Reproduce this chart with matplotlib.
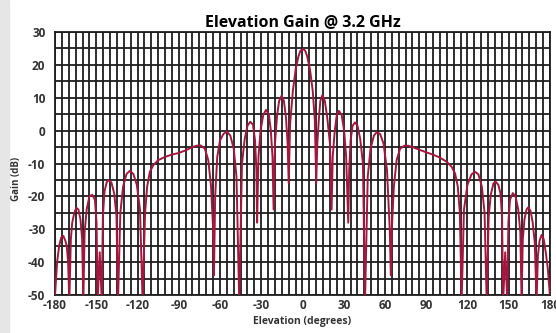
"""
Elevation gain pattern at 3.2 GHz, re-drawn from the datasheet plot.
"""
import matplotlib
matplotlib.use('Agg')
import matplotlib.pyplot as plt
from matplotlib.patches import Rectangle

plt.rcParams.update({'font.family': ['Open Sans', 'DejaVu Sans'],
                     'font.weight': 'bold'})

C_LINE = '#a3173f'
C_GRID = '#1e1e1e'

# (elevation in degrees, gain in dB), lobe by lobe
elevation_deg = [
    -180, -178.5, -177, -175.5, -174, -172.5, -171.5, -170.5, -169.6,
    -168.5, -167.5, -166, -164.5, -163, -161.5, -160.3, -159.4,
    -158.5, -157, -155, -153, -151, -149.8, -149, -147.5, -146,
    -145.2, -144, -142.5, -141, -139, -137, -135.3, -134.2,
    -132.5, -130.5, -128, -125.5, -123, -120.5, -118.2, -116.3,
    -114.5, -113, -111, -108.5, -105, -100, -95, -90, -85, -80, -77, -74,
    -71, -68.5, -66.5, -65, -64.4,
    -63.5, -62, -60, -57.5, -55, -52.5, -50, -48, -46,
    -44, -42, -40, -38, -36, -34.5, -33.5, -33,
    -32, -30.5, -28.5, -26.5, -24.5, -23, -21.8, -21,
    -20, -18.5, -17, -15.2, -13.5, -12, -10.8, -10,
    -9, -7, -5, -3, -1.5, 0.5, 2, 3.5, 5.5, 7.5, 9, 10,
    10.8, 12, 13, 14.5, 16.3, 18, 20, 21.2,
    22, 23.5, 25, 26.5, 28.5, 30.3, 31.8, 33.3,
    34, 35, 36.5, 38.2, 40, 42, 44, 45.5,
    47.5, 49.5, 52, 54, 56.5, 59, 61.5, 63.5, 64.3,
    65, 66.5, 68.5, 71, 74, 77, 80, 85, 90, 95, 100, 105, 108.5, 111,
    113, 114.5, 115.8,
    117.5, 120, 123, 125.5, 128, 130.5, 132.5, 134,
    135.5, 137, 139, 140.5, 142.5, 144, 145.2, 146, 147.5, 149,
    149.8, 151, 153, 155, 157, 158.5, 159.4,
    160.3, 161.5, 163, 164.3, 166, 167.5, 169, 170.3,
    171.3, 172.5, 174, 175.5, 177, 178.5, 180,
]
gain_db = [
    -50, -40, -35, -32.5, -32, -33.5, -35, -40, -52,
    -33, -28, -25, -23.5, -24, -27, -33, -52,
    -31, -24, -20, -19.5, -21, -28, -52, -37, -52,
    -26, -18.5, -15.8, -15, -15.8, -19, -26, -52,
    -25, -17, -13.2, -12.2, -13.2, -16.5, -24, -52,
    -25, -17, -12.5, -10.5, -9, -8, -7.3, -6.8, -6, -5, -4.6, -4.5,
    -5.5, -9, -17, -30, -44,
    -20, -8, -3, -1, -0.3, -1.5, -5.5, -14, -52,
    -10, -2.5, 1.5, 2.7, 1.8, -3, -12, -28,
    -8, 0, 4.8, 6.3, 5, 0, -8, -24,
    -4, 4.5, 9, 10.6, 9, 4, -4, -16,
    2, 12, 18.5, 22.5, 24.3, 24.8, 24.3, 22.5, 18.5, 12, 3, -16,
    -4, 4, 9, 10.8, 9, 4, -4, -24,
    -8, 0, 4.8, 6.0, 4.8, 0, -8, -28,
    -12, -3, 1.5, 2.5, 1.5, -2.5, -10, -52,
    -14, -5.5, -1.5, -0.5, -1, -4, -12, -30, -44,
    -30, -17, -9, -5.5, -4.6, -4.6, -5, -5.8, -6.6, -7.3, -8.2, -9.5, -11, -13,
    -17, -25, -52,
    -24, -16.5, -13.3, -12.5, -13.3, -17, -25, -52,
    -26, -19.5, -16, -15.5, -16.5, -19, -26, -52, -37, -52,
    -28, -21, -19, -20, -24, -31, -52,
    -33, -27, -24, -23.3, -24.5, -28, -34, -52,
    -38, -33.5, -31.7, -33, -37, -42, -50,
]

x_ticks = [-180, -150, -120, -90, -60, -30, 0, 30, 60, 90, 120, 150, 180]
y_ticks = [30, 20, 10, 0, -10, -20, -30, -40, -50]

fig = plt.figure(figsize=(5.56, 3.33), dpi=100)
fig.patches.append(Rectangle((0, 0), 9 / 556, 1, transform=fig.transFigure,
                             color='#e6e6e6', zorder=0))
ax = fig.add_axes([0.099, 0.114, 0.890, 0.790])

ax.plot(elevation_deg, gain_db, color=C_LINE, linewidth=1.4, zorder=3)

ax.set_xlim(-180, 180)
ax.set_ylim(-50, 30)
ax.set_xticks(x_ticks)
ax.set_xticklabels([str(v) for v in x_ticks])
ax.set_yticks(y_ticks)
ax.set_yticklabels([str(v) for v in y_ticks])
ax.set_xticks(range(-180, 181, 5), minor=True)
ax.set_yticks(range(-50, 31, 5), minor=True)
ax.grid(which='both', color=C_GRID, linewidth=1.3)
ax.set_axisbelow(True)
ax.tick_params(which='both', length=0, labelsize=8.5, colors='#333333')
ax.tick_params(axis='y', pad=7)
ax.tick_params(axis='x', pad=3)
for lab in ax.get_xticklabels() + ax.get_yticklabels():
    lab.set_fontweight('bold')
for s in ax.spines.values():
    s.set_color(C_GRID)
    s.set_linewidth(1.3)

ax.set_title('Elevation Gain @ 3.2 GHz', fontsize=11.5, fontweight='bold', pad=4)
ax.set_xlabel('Elevation (degrees)', fontsize=7.5, fontweight='bold',
              color='#333333', labelpad=3)
ax.set_ylabel('Gain (dB)', fontsize=7, fontweight='bold', color='#333333')
ax.yaxis.set_label_coords(-0.066, 0.44)

fig.savefig('out.png', dpi=100)
